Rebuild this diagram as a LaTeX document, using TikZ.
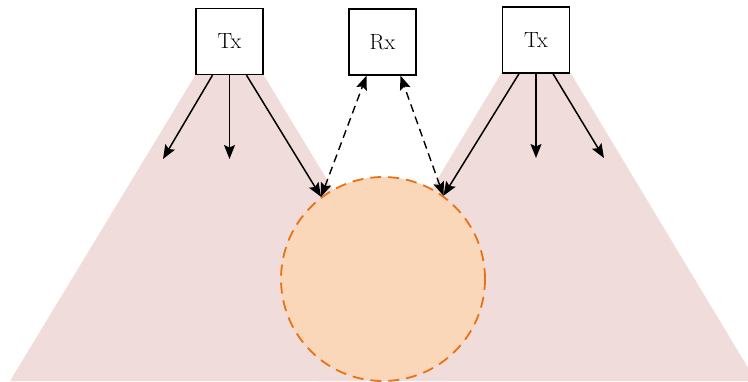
\documentclass[tikz,border=0pt]{standalone}
\usetikzlibrary{arrows.meta,calc}
\definecolor{fanpink}{RGB}{240,220,219}
\definecolor{blobfill}{RGB}{250,215,185}
\definecolor{bloborange}{RGB}{234,113,20}
\tikzset{
  unitbox/.style={draw=black, line width=1.4pt, fill=white, minimum width=67pt, minimum height=66pt, inner sep=0pt, font=\fontsize{22}{26}\selectfont},
  beam/.style={line width=1.5pt, -{Stealth[length=14pt,width=11pt,inset=2.5pt]}},
  echo/.style={line width=1.4pt, dash pattern=on 8pt off 5pt, {Stealth[length=14pt,width=11pt,inset=2.5pt]}-{Stealth[length=14pt,width=11pt,inset=2.5pt]}},
  blob/.style={circle, minimum size=204pt, inner sep=0pt, fill=blobfill, draw=bloborange, line width=1.8pt, dash pattern=on 11pt off 7pt}
}
\begin{document}
\begin{tikzpicture}[x=1pt,y=-1pt]
\useasboundingbox (0,0) rectangle (748,381);
\begin{scope}
\clip (0,0) rectangle (748,381);
\fill[fanpink] (196,74) -- (263,74) -- (449,381) -- (10,381) -- cycle;
\fill[fanpink] (502,72) -- (570,72) -- (756,381) -- (316,381) -- cycle;
\end{scope}
\node[blob] (tgt) at (383,279) {};
\node[unitbox] (txl) at (229.5,41.5) {Tx};
\node[unitbox] (rx) at (382.5,42) {Rx};
\node[unitbox] (txr) at (536,40) {Tx};
% free ends
\coordinate (l1) at (163,159);
\coordinate (l2) at (229.5,159);
\coordinate (r2) at (536,158);
\coordinate (r3) at (604,158);
% left Tx beams
\draw[beam] ($(txl.south)+(-17,0)$) -- (l1);
\draw[beam] (txl.south) -- (l2);
\draw[beam] ($(txl.south)+(17,0)$) -- (tgt.127);
% right Tx beams
\draw[beam] ($(txr.south)+(-17,0)$) -- (tgt.54);
\draw[beam] (txr.south) -- (r2);
\draw[beam] ($(txr.south)+(17,0)$) -- (r3);
% Rx echoes
\draw[echo] (tgt.127) -- ($(rx.south)+(-16,0)$);
\draw[echo] (tgt.54) -- ($(rx.south)+(18,0)$);
\end{tikzpicture}
\end{document}
